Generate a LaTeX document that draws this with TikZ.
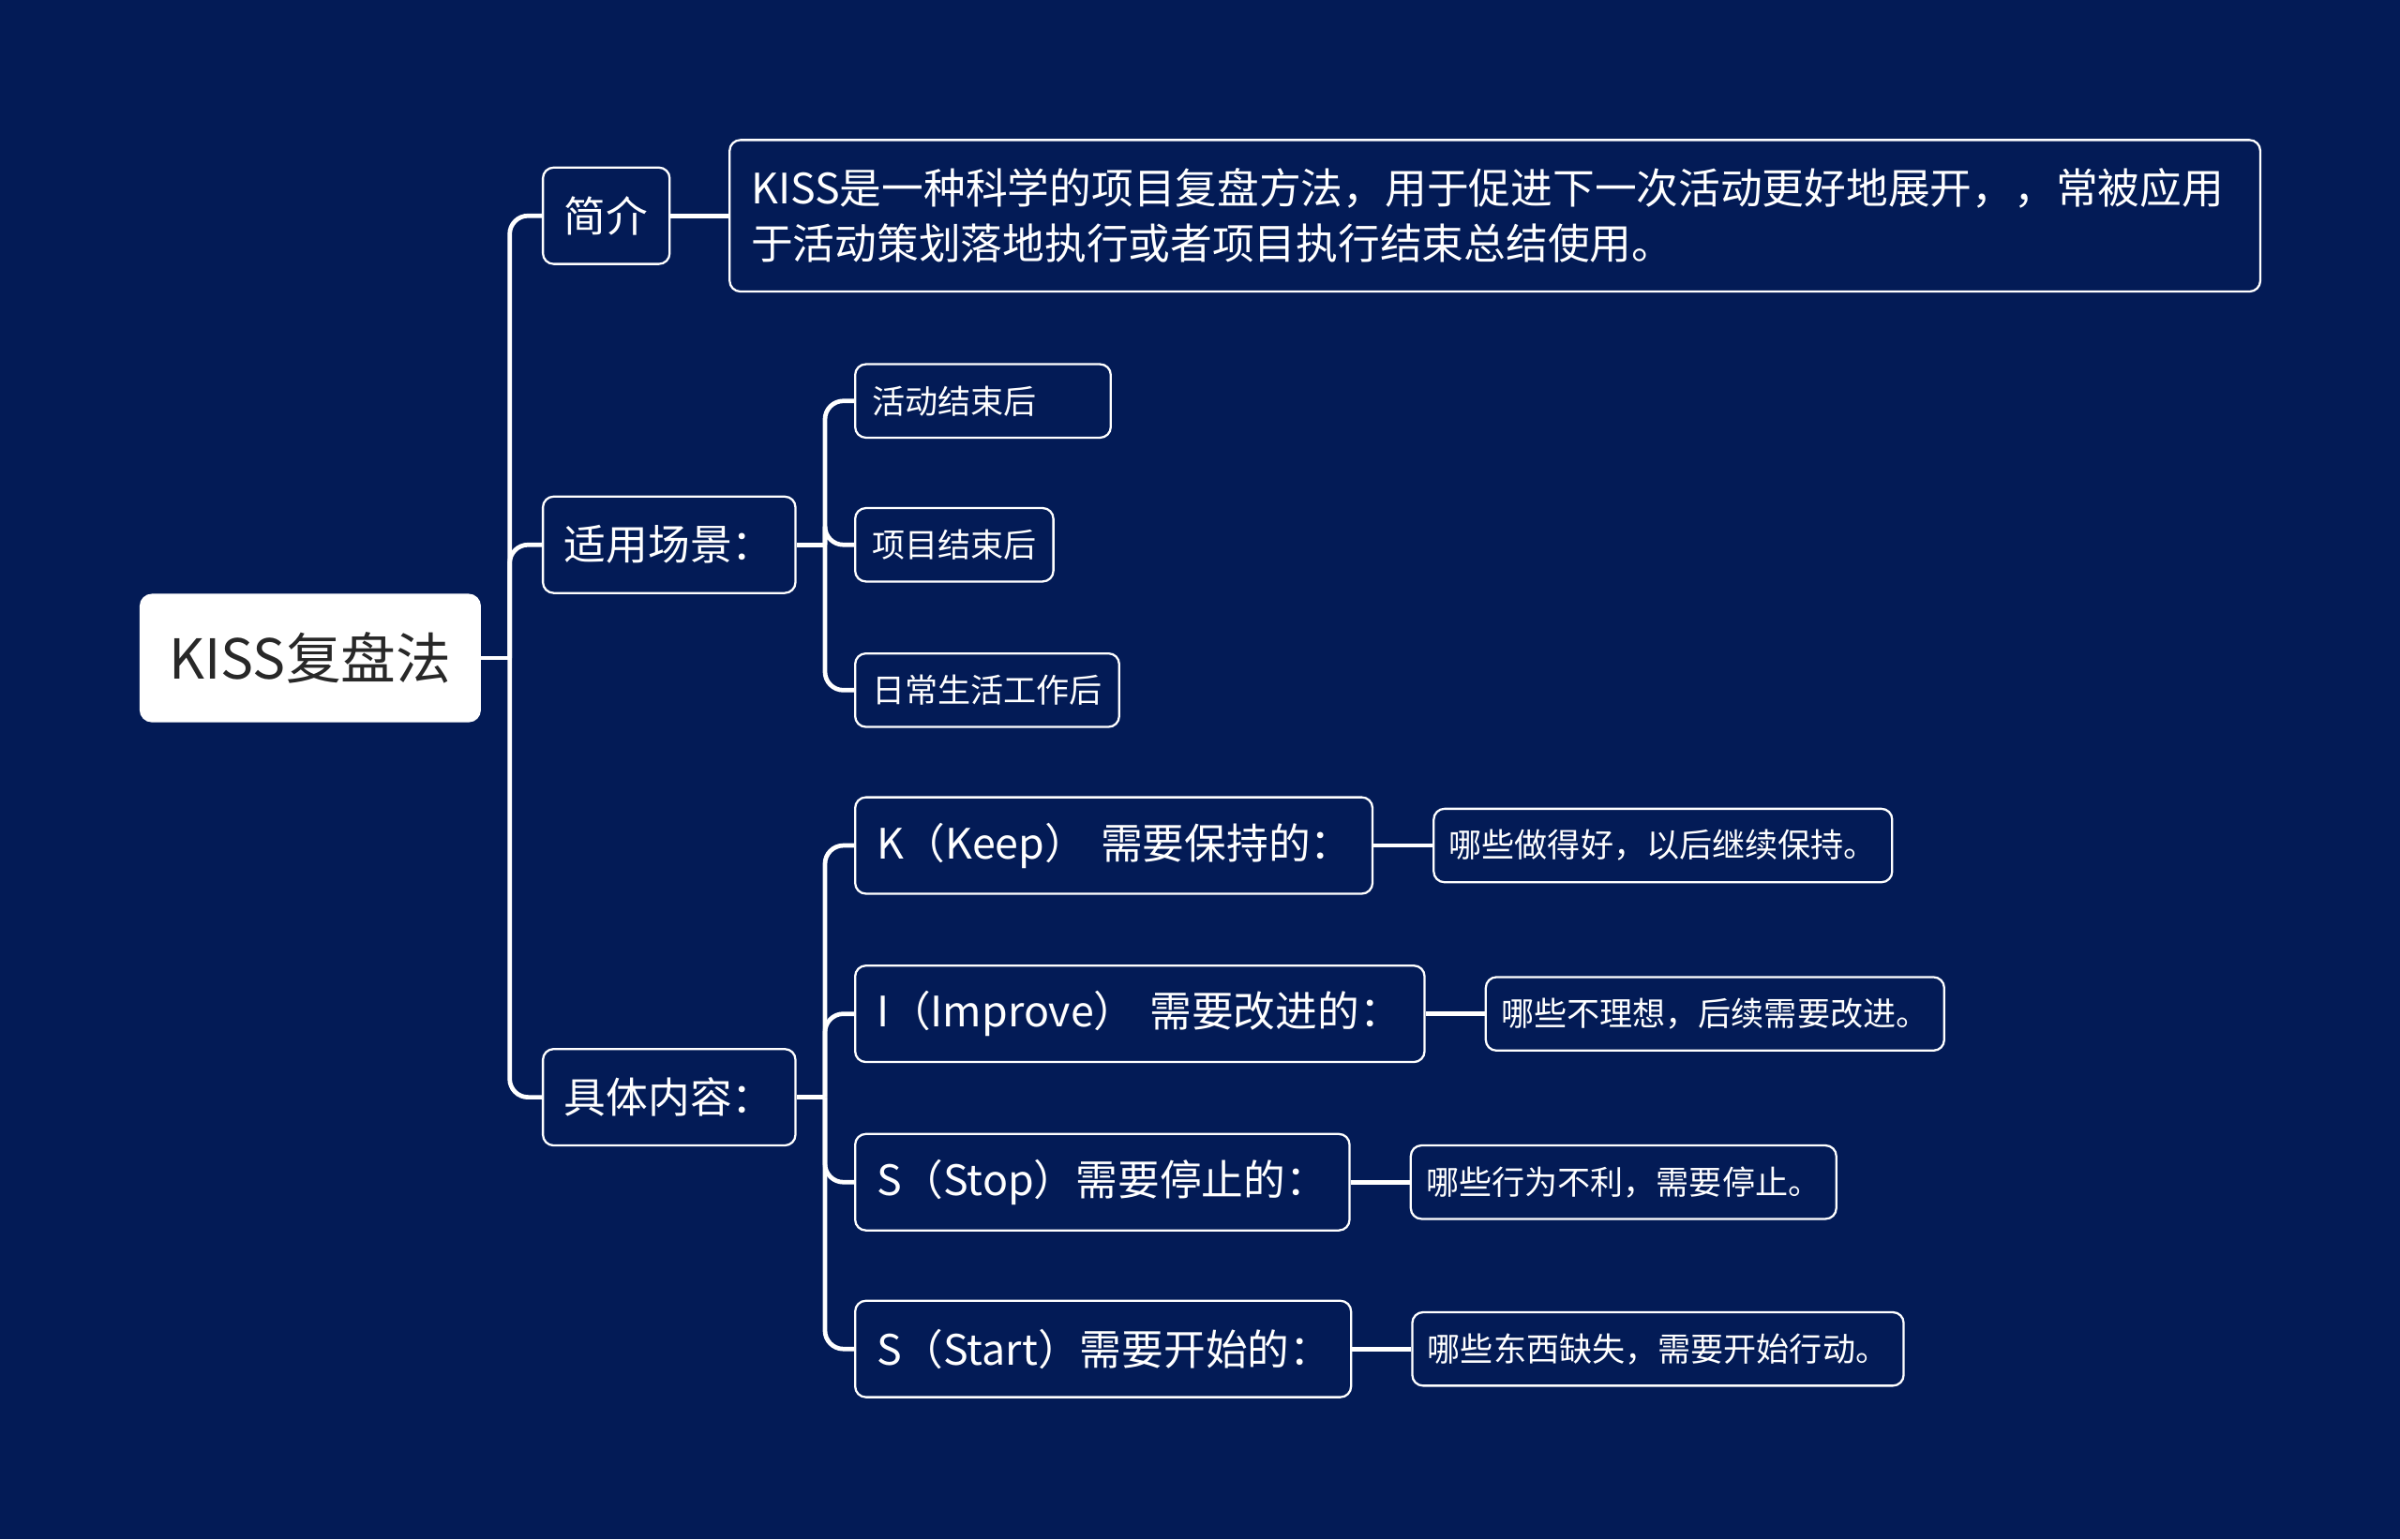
\documentclass[tikz,border=0pt]{standalone}
\usepackage{fontspec}
\newfontfamily\cjk{Noto Sans CJK SC}
\definecolor{bg}{RGB}{3,27,86}
\definecolor{roottext}{RGB}{40,40,40}
\begin{document}
\begin{tikzpicture}[x=1pt,y=-1pt,
  conn/.style={draw=white,line width=2.9pt,rounded corners=12pt},
  box/.style={draw=white,line width=1.4pt,rounded corners=7pt,fill=bg,text=white,
    font=\cjk\fontsize{27.4}{36}\selectfont,minimum height=63pt,inner xsep=14pt,inner ysep=0pt,anchor=west},
  small/.style={box,font=\cjk\fontsize{21.5}{28}\selectfont,minimum height=48pt,inner xsep=10pt},
  rootbox/.style={fill=white,rounded corners=8pt,text=roottext,font=\cjk\fontsize{36}{44}\selectfont,
    minimum width=223pt,minimum height=84pt,anchor=west,inner sep=0pt}]
\fill[bg] (0,0) rectangle (1568,1006);
\useasboundingbox (0,0) rectangle (1568,1006);

% nodes
\node[rootbox] (root) at (91,430) {KISS复盘法};
\node[box,minimum width=82pt] (jj) at (354,141) {简介};
\node[box,text width=972pt,align=left,minimum height=99pt] (desc) at (476,141)
  {KISS是一种科学的项目复盘方法，用于促进下一次活动更好地展开，，常被应用\\于活动策划落地执行或者项目执行结束总结使用。};
\node[box,minimum width=164pt] (sy) at (354,356) {适用场景：};
\node[small,text width=145pt,align=left,inner xsep=11pt] (s1) at (558,262) {活动结束后};
\node[small,inner xsep=11pt,minimum width=128pt] (s2) at (558,356) {项目结束后};
\node[small,inner xsep=11pt,minimum width=170pt] (s3) at (558,451) {日常生活工作后};
\node[box,minimum width=164pt] (jt) at (354,717) {具体内容：};
\node[box,text width=310pt,align=left] (k) at (558,552.5) {K（Keep）~需要保持的：};
\node[box,text width=344pt,align=left] (i) at (558,662.5) {I（Improve）~需要改进的：};
\node[box,text width=295pt,align=left] (s) at (558,772.5) {S（Stop）需要停止的：};
\node[box,text width=296pt,align=left] (st) at (558,881.5) {S（Start）需要开始的：};
\node[small,minimum width=299pt] (lk) at (936,552.5) {哪些做得好，以后继续保持。};
\node[small,minimum width=298pt] (li) at (970,662.5) {哪些不理想，后续需要改进。};
\node[small,minimum width=277pt] (ls) at (921,772.5) {哪些行为不利，需要停止。};
\node[small,minimum width=320pt] (lst) at (922,881.5) {哪些东西缺失，需要开始行动。};

% junctions
\coordinate (j0) at (333,430);
\coordinate (j1) at (539,356);
\coordinate (j2) at (539,717);

% connectors
\draw[conn] (root.east) -- (j0);
\draw[conn] (j0) |- (jj.west);
\draw[conn] (j0) |- (sy.west);
\draw[conn] (j0) |- (jt.west);
\draw[conn] (jj.east) -- (desc.west);
\draw[conn] (sy.east) -- (j1);
\draw[conn] (j1) |- (s1.west);
\draw[conn] (j1) |- (s2.west);
\draw[conn] (j1) |- (s3.west);
\draw[conn] (jt.east) -- (j2);
\draw[conn] (j2) |- (k.west);
\draw[conn] (j2) |- (i.west);
\draw[conn] (j2) |- (s.west);
\draw[conn] (j2) |- (st.west);
\draw[conn] (k.east) -- (lk.west);
\draw[conn] (i.east) -- (li.west);
\draw[conn] (s.east) -- (ls.west);
\draw[conn] (st.east) -- (lst.west);
\end{tikzpicture}
\end{document}
